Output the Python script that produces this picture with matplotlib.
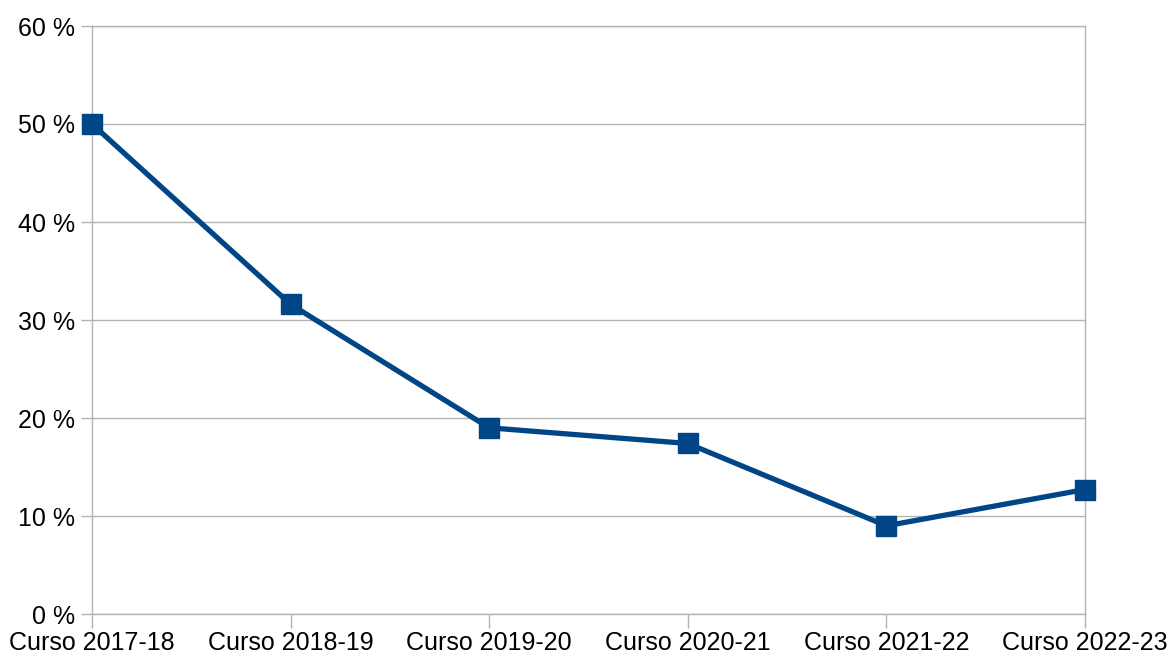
import matplotlib.pyplot as plt
from matplotlib.ticker import FuncFormatter

cursos = ["Curso 2017-18", "Curso 2018-19", "Curso 2019-20",
          "Curso 2020-21", "Curso 2021-22", "Curso 2022-23"]
porcentajes = [50.0, 31.6, 19.0, 17.4, 9.0, 12.7]
yticks = [0, 10, 20, 30, 40, 50, 60]

plt.rcParams["font.family"] = ["Liberation Sans", "DejaVu Sans"]

fig = plt.figure(figsize=(11.76, 6.62), dpi=100)
ax = fig.add_axes([92 / 1176, 48 / 662, 993 / 1176, 588 / 662])

x = list(range(len(cursos)))
ax.plot(x, porcentajes, color="#004586", linewidth=3.8,
        marker="s", markersize=14, zorder=3, clip_on=False)

ax.set_xlim(0, len(cursos) - 1)
ax.set_ylim(0, 60)
ax.set_yticks(yticks)
ax.yaxis.set_major_formatter(FuncFormatter(lambda v, p: f"{int(v)} %"))
ax.set_xticks(x)
ax.set_xticklabels(cursos)

ax.grid(axis="y", color="#b3b3b3", linewidth=1)
ax.set_axisbelow(True)
for s in ax.spines.values():
    s.set_color("#b3b3b3")
    s.set_linewidth(1)
ax.tick_params(axis="both", colors="#b3b3b3", labelcolor="black",
               labelsize=18, width=1)
ax.tick_params(axis="y", length=8, pad=4)
ax.tick_params(axis="x", length=10, pad=2)

fig.savefig("out.png", dpi=100)
